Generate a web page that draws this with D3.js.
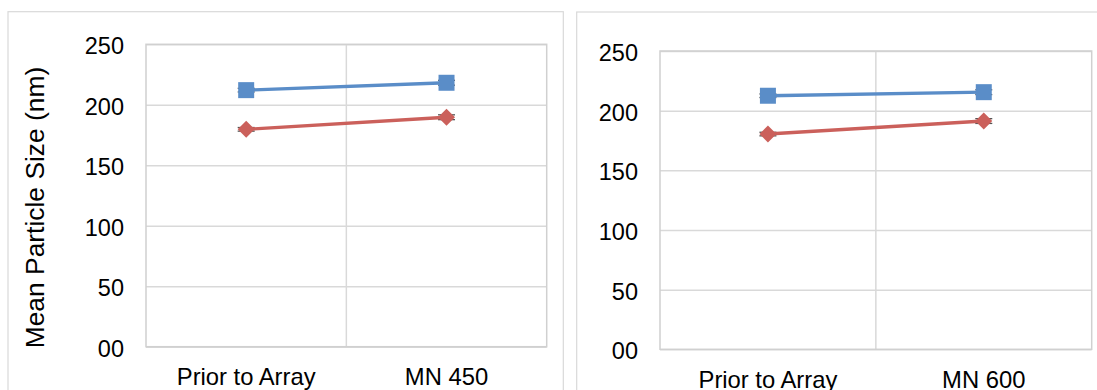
<!DOCTYPE html>
<html>
<head>
<meta charset="utf-8">
<script src="https://cdn.jsdelivr.net/npm/d3@7/dist/d3.min.js"></script>
<style>
  html, body { margin: 0; padding: 0; background: #fff; overflow: hidden; }
  svg { display: block; font-family: "Liberation Sans", Arial, sans-serif; }
</style>
</head>
<body>
<svg id="chart" width="1097" height="390"></svg>
<script>
// Categories per panel
const categoriesLeft = ["Prior to Array", "MN 450"];
const categoriesRight = ["Prior to Array", "MN 600"];

// Mean particle size (nm), upper (blue) and lower (red) series
const blueLeft = [212.1, 218.2];
const redLeft = [179.7, 189.7];
const blueRight = [212.5, 215.5];
const redRight = [180.4, 191.3];

// Standard deviations shown as error bars
const blueLeftErr = [1.5, 2];
const redLeftErr = [1.5, 2];
const blueRightErr = [1.5, 2];
const redRightErr = [1.5, 2];

// Y axis ticks and their labels
const yTicks = [0, 50, 100, 150, 200, 250];
const yTickLabels = ["00", "50", "100", "150", "200", "250"];
const yTitle = "Mean Particle Size (nm)";

const BLUE = "#5a8dc8";
const RED = "#cb605b";
const GRID = "#d9d9d9";
const FONT = "'Liberation Sans', Arial, sans-serif";

const svg = d3.select("#chart");

const panels = [
  {
    frame: { x: 8, y: 11.7, w: 555.3, h: 400 },
    plot: { left: 146, right: 546.7, top: 44.3, bottom: 346.7 },
    categories: categoriesLeft,
    blue: blueLeft, red: redLeft,
    blueErr: blueLeftErr, redErr: redLeftErr,
    title: true
  },
  {
    frame: { x: 576.7, y: 12, w: 540, h: 400 },
    plot: { left: 660, right: 1091.7, top: 51, bottom: 349.3 },
    categories: categoriesRight,
    blue: blueRight, red: redRight,
    blueErr: blueRightErr, redErr: redRightErr,
    title: false
  }
];

// marker shapes centred on the origin
const squarePath = "M-8,-8H8V8H-8Z";
const diamondPath = "M0,-8.5L8.5,0L0,8.5L-8.5,0Z";

panels.forEach(p => {
  const g = svg.append("g");

  // chart frame
  g.append("rect")
    .attr("x", p.frame.x).attr("y", p.frame.y)
    .attr("width", p.frame.w).attr("height", p.frame.h)
    .attr("fill", "#fff").attr("stroke", GRID).attr("stroke-width", 1.2);

  const x = d3.scaleBand()
    .domain(p.categories)
    .range([p.plot.left, p.plot.right])
    .paddingInner(0).paddingOuter(0);
  const cx = d => x(d) + x.bandwidth() / 2;

  const y = d3.scaleLinear()
    .domain([0, 250])
    .range([p.plot.bottom, p.plot.top]);

  const width = p.plot.right - p.plot.left;
  const height = p.plot.bottom - p.plot.top;

  // horizontal gridlines
  g.append("g")
    .attr("transform", `translate(${p.plot.left},0)`)
    .call(d3.axisLeft(y).tickValues(yTicks).tickSize(-width).tickFormat(""))
    .call(a => a.select(".domain").remove())
    .call(a => a.selectAll("line").attr("stroke", GRID).attr("stroke-width", 1.5));

  // vertical gridline between categories
  g.append("g")
    .selectAll("line")
    .data(p.categories.slice(1))
    .join("line")
    .attr("x1", d => x(d)).attr("x2", d => x(d))
    .attr("y1", p.plot.top).attr("y2", p.plot.bottom)
    .attr("stroke", GRID).attr("stroke-width", 1.5);

  // plot area border
  g.append("rect")
    .attr("x", p.plot.left).attr("y", p.plot.top)
    .attr("width", width).attr("height", height)
    .attr("fill", "none").attr("stroke", "#d0d0d0").attr("stroke-width", 1.5);

  // y tick labels
  g.append("g")
    .attr("transform", `translate(${p.plot.left},0)`)
    .call(d3.axisLeft(y).tickValues(yTicks).tickSize(0).tickPadding(22)
      .tickFormat((d, i) => yTickLabels[i]))
    .call(a => a.select(".domain").remove())
    .call(a => a.selectAll("text")
      .attr("dy", "9.5px")
      .attr("font-size", "23.5px")
      .attr("font-family", FONT)
      .attr("fill", "#000"));

  // x category labels
  g.append("g")
    .attr("transform", `translate(0,${p.plot.bottom})`)
    .call(d3.axisBottom(x).tickSize(0).tickPadding(0))
    .call(a => a.select(".domain").remove())
    .call(a => a.selectAll("text")
      .attr("y", 38.6).attr("dy", 0)
      .attr("font-size", "23.8px")
      .attr("font-family", FONT)
      .attr("fill", "#000"));

  if (p.title) {
    g.append("text")
      .attr("transform", `translate(43.6,207.5) rotate(-90)`)
      .attr("text-anchor", "middle")
      .attr("font-size", "26.4px")
      .attr("font-family", FONT)
      .attr("fill", "#000")
      .text(yTitle);
  }

  const line = d3.line().x(d => cx(d.c)).y(d => y(d.v));
  const series = [
    { vals: p.blue, err: p.blueErr, color: BLUE, shape: squarePath },
    { vals: p.red, err: p.redErr, color: RED, shape: diamondPath }
  ];

  series.forEach(s => {
    const pts = p.categories.map((c, i) => ({ c, v: s.vals[i], e: s.err[i] }));

    // error bars
    const eb = g.append("g").attr("stroke", "#555").attr("stroke-width", 1.3);
    pts.forEach(d => {
      const xc = cx(d.c);
      eb.append("line").attr("x1", xc).attr("x2", xc)
        .attr("y1", y(d.v - d.e)).attr("y2", y(d.v + d.e));
      [d.v - d.e, d.v + d.e].forEach(v => {
        eb.append("line").attr("x1", xc - 8.5).attr("x2", xc + 8.5)
          .attr("y1", y(v)).attr("y2", y(v));
      });
    });

    g.append("path")
      .datum(pts)
      .attr("d", line)
      .attr("fill", "none")
      .attr("stroke", s.color)
      .attr("stroke-width", 3.4);

    g.append("g")
      .selectAll("path")
      .data(pts)
      .join("path")
      .attr("transform", d => `translate(${cx(d.c)},${y(d.v)})`)
      .attr("d", s.shape)
      .attr("fill", s.color);
  });
});
</script>
</body>
</html>
